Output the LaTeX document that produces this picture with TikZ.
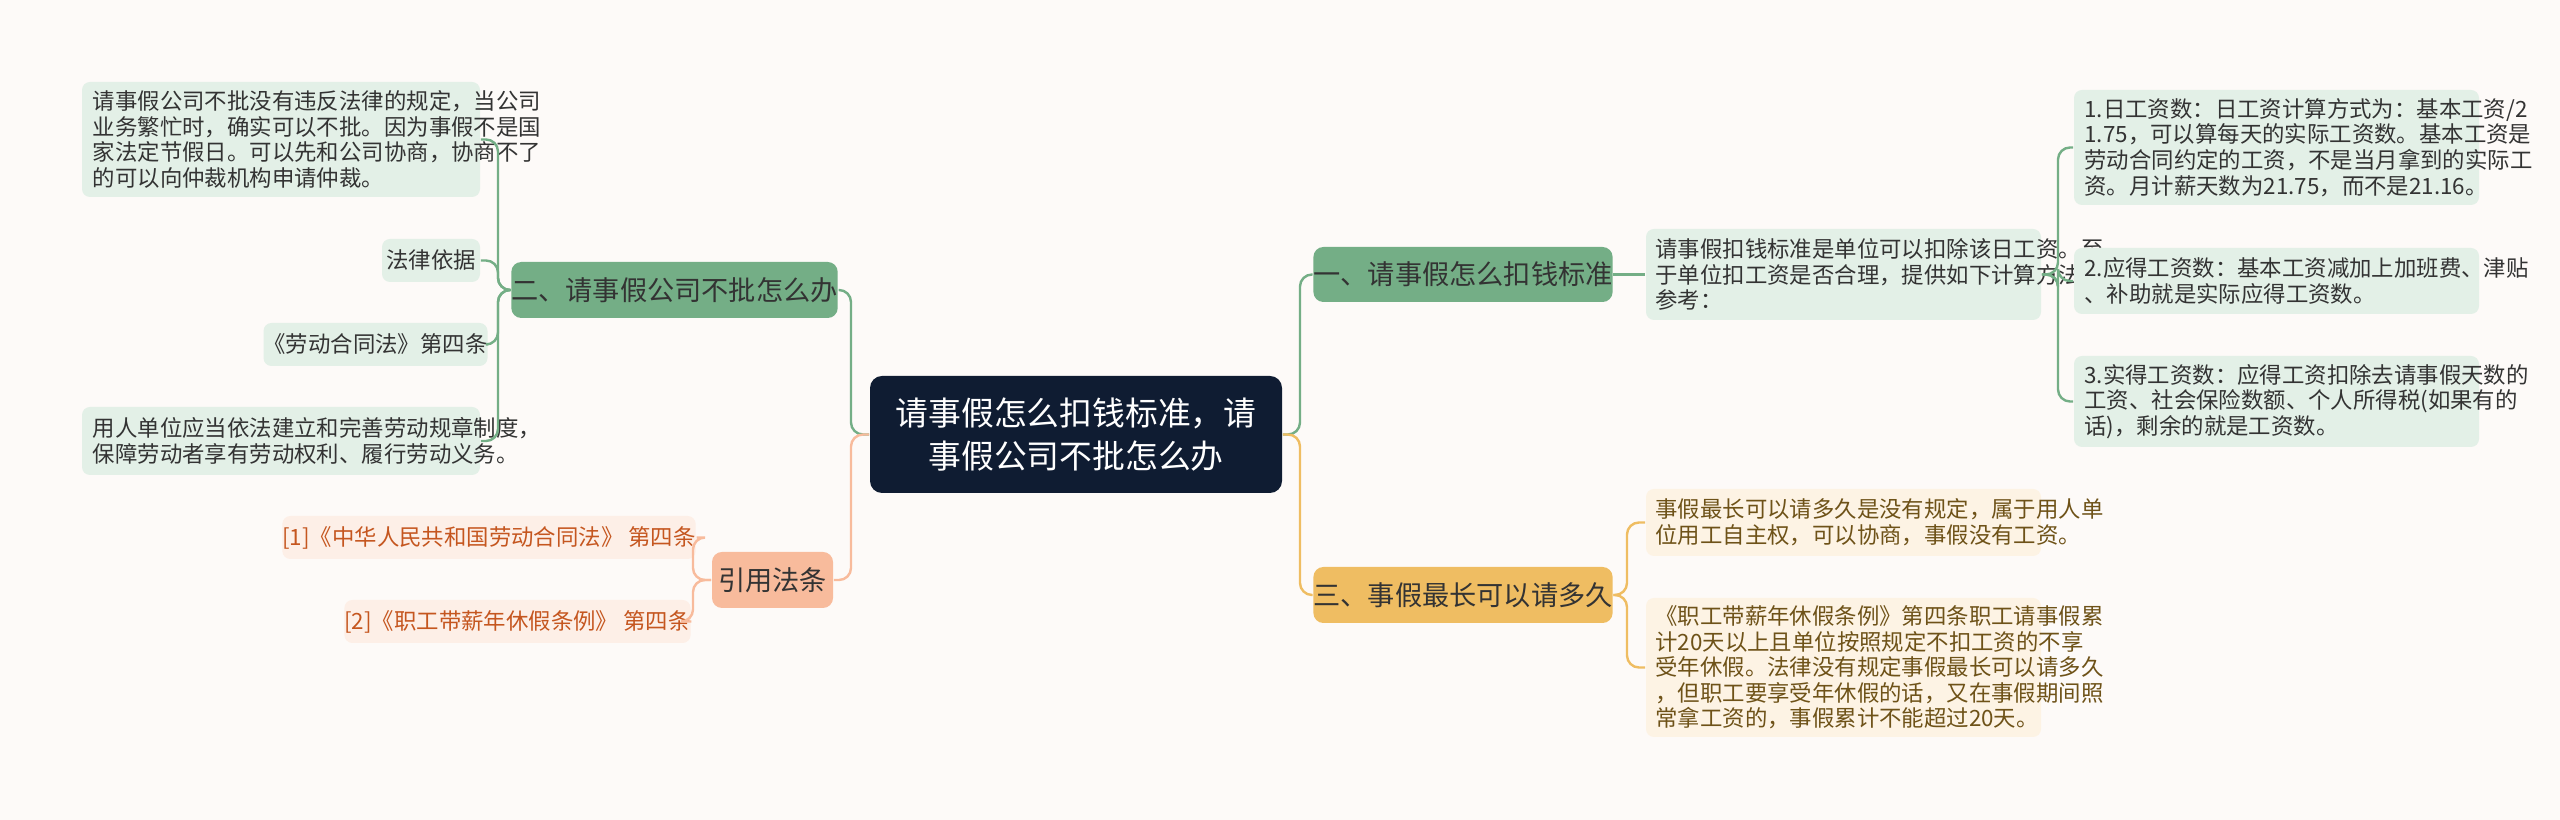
\documentclass[tikz,border=0pt]{standalone}
\usepackage{fontspec}
\setmainfont{Noto Sans CJK SC}
\begin{document}
\begin{tikzpicture}[x=0.25pt,y=-0.25pt,
  leaf/.style={rounded corners=2pt,inner sep=0pt,font=\fontsize{5.6}{6.4}\selectfont,align=left},
  gleaf/.style={leaf,fill=gleafc,text=txt},
  yleaf/.style={leaf,fill=yleafc,text=ytxt},
  pleaf/.style={leaf,fill=pleafc,text=ptxt},
  br/.style={rounded corners=2.5pt,inner sep=0pt,font=\fontsize{6.8}{8}\selectfont,text=txt},
  gl/.style={draw=gbr,line width=0.6pt,rounded corners=3pt},
  yl/.style={draw=ybr,line width=0.6pt,rounded corners=3pt},
  pl/.style={draw=pbr,line width=0.6pt,rounded corners=3pt}]
\definecolor{bg}{HTML}{FDFAF8}
\definecolor{gbr}{HTML}{74AE86}
\definecolor{gleafc}{HTML}{E3F0E7}
\definecolor{ybr}{HTML}{EFBD62}
\definecolor{yleafc}{HTML}{FDF3E4}
\definecolor{pbr}{HTML}{F8BB9C}
\definecolor{pleafc}{HTML}{FDEFE7}
\definecolor{txt}{HTML}{333333}
\definecolor{ytxt}{HTML}{6E5218}
\definecolor{ptxt}{HTML}{C5561F}
\definecolor{ctr}{HTML}{0F1C32}
\fill[bg] (0,0) rectangle (2560,820);
\useasboundingbox (0,0) rectangle (2560,820);
% center
\node[rounded corners=3pt,fill=ctr,text=white,minimum width=103pt,minimum height=29.25pt,align=center,font=\fontsize{8.2}{10.8}\selectfont] (C) at (1076,434.5) {请事假怎么扣钱标准，请\\事假公司不批怎么办};
% branches
\node[br,fill=gbr,minimum width=79.25pt,minimum height=14pt] (B2) at (674.5,290) {二、请事假公司不批怎么办};
\node[br,fill=pbr,minimum width=30.25pt,minimum height=14pt] (BY) at (772.5,580) {引用法条};
\node[br,fill=gbr,minimum width=72.5pt,minimum height=13.75pt] (B1) at (1463,274.5) {一、请事假怎么扣钱标准};
\node[br,fill=ybr,minimum width=72.5pt,minimum height=14pt] (B3) at (1463,595) {三、事假最长可以请多久};
% left green leaves
\node[gleaf,minimum width=99.5pt,minimum height=28.75pt,text width=94pt] (L1) at (281,139.5) {请事假公司不批没有违反法律的规定，当公司\\业务繁忙时，确实可以不批。因为事假不是国\\家法定节假日。可以先和公司协商，协商不了\\的可以向仲裁机构申请仲裁。};
\node[gleaf,minimum width=24.5pt,minimum height=10.75pt,align=center] (L2) at (431,260.5) {法律依据};
\node[gleaf,minimum width=52.25pt,minimum height=10.75pt,align=center] (L3) at (375.5,344.5) {《劳动合同法》第四条};
\node[gleaf,minimum width=99.5pt,minimum height=17pt,text width=94pt] (L4) at (281,441) {用人单位应当依法建立和完善劳动规章制度，\\保障劳动者享有劳动权利、履行劳动义务。};
% refs
\node[pleaf,minimum width=92.5pt,minimum height=10.75pt,align=center] (R1) at (489,537.5) {[1]《中华人民共和国劳动合同法》 第四条};
\node[pleaf,minimum width=78.25pt,minimum height=10.75pt,align=center] (R2) at (517.5,621.5) {[2]《职工带薪年休假条例》 第四条};
% right green
\node[gleaf,minimum width=98.75pt,minimum height=22.75pt,text width=94pt] (M) at (1843.5,274.5) {请事假扣钱标准是单位可以扣除该日工资。至\\于单位扣工资是否合理，提供如下计算方法供\\参考：};
\node[gleaf,minimum width=101.25pt,minimum height=28.75pt,text width=96pt] (N1) at (2276.5,147.5) {1.日工资数：日工资计算方式为：基本工资/2\\1.75，可以算每天的实际工资数。基本工资是\\劳动合同约定的工资，不是当月拿到的实际工\\资。月计薪天数为21.75，而不是21.16。};
\node[gleaf,minimum width=101.25pt,minimum height=16.5pt,text width=96pt] (N2) at (2276.5,281) {2.应得工资数：基本工资减加上加班费、津贴\\、补助就是实际应得工资数。};
\node[gleaf,minimum width=101.25pt,minimum height=22.75pt,text width=96pt] (N3) at (2276.5,401.5) {3.实得工资数：应得工资扣除去请事假天数的\\工资、社会保险数额、个人所得税(如果有的\\话)，剩余的就是工资数。};
% yellow
\node[yleaf,minimum width=98.75pt,minimum height=16.75pt,text width=94pt] (Y1) at (1843.5,522.5) {事假最长可以请多久是没有规定，属于用人单\\位用工自主权，可以协商，事假没有工资。};
\node[yleaf,minimum width=98.75pt,minimum height=34.75pt,text width=94pt] (Y2) at (1843.5,667.5) {《职工带薪年休假条例》第四条职工请事假累\\计20天以上且单位按照规定不扣工资的不享\\受年休假。法律没有规定事假最长可以请多久\\，但职工要享受年休假的话，又在事假期间照\\常拿工资的，事假累计不能超过20天。};
% trunk coordinates
\coordinate (tc) at (851,0);
\coordinate (tr) at (1300,0);
\coordinate (tg) at (498,0);
\coordinate (tp) at (693,0);
\coordinate (tm) at (2058,0);
\coordinate (ty) at (1627,0);
% connectors
\draw[gl] (C.west) -- (C.west -| tc) |- (B2.east);
\draw[pl] (C.west) -- (C.west -| tc) |- (BY.east);
\draw[gl] (C.east) -- (C.east -| tr) |- (B1.west);
\draw[yl] (C.east) -- (C.east -| tr) |- (B3.west);
\foreach \n in {L1,L2,L3,L4} \draw[gl] (B2.west) -- (B2.west -| tg) |- (\n.east);
\foreach \n in {R1,R2} \draw[pl] (BY.west) -- (BY.west -| tp) |- (\n.east);
\draw[gl] (B1.east) -- (M.west);
\foreach \n in {N1,N2,N3} \draw[gl] (M.east) -- (M.east -| tm) |- (\n.west);
\foreach \n in {Y1,Y2} \draw[yl] (B3.east) -- (B3.east -| ty) |- (\n.west);
\end{tikzpicture}
\end{document}
